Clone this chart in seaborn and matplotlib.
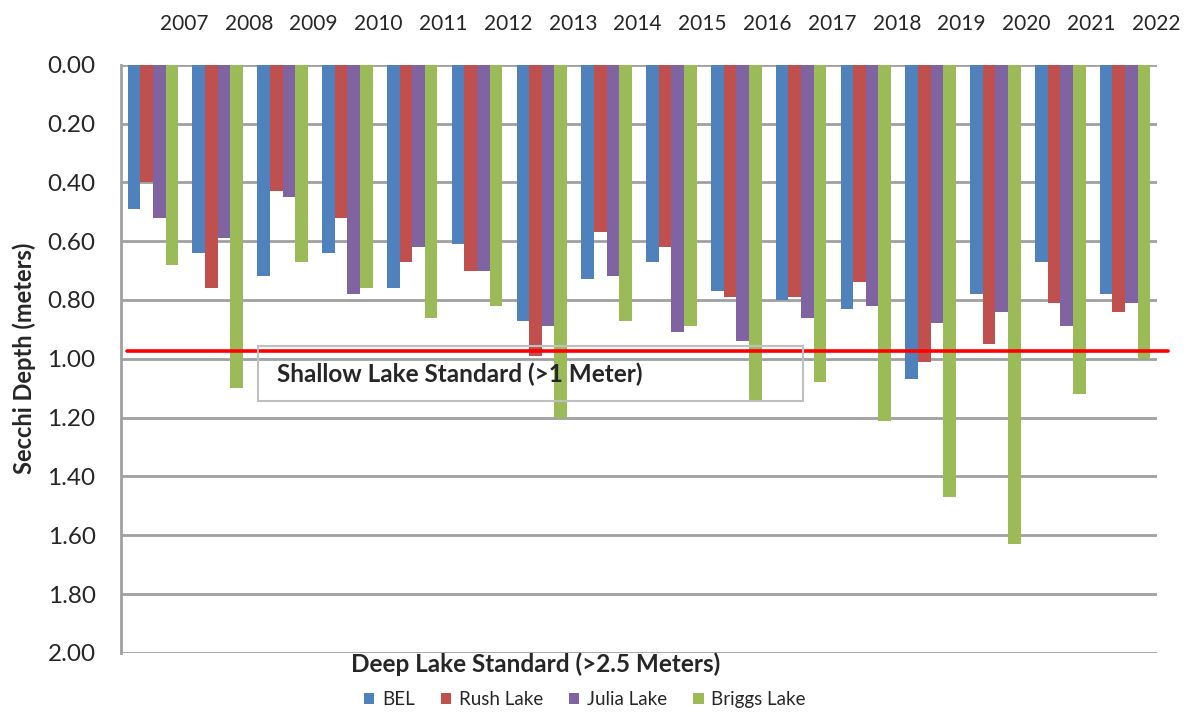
import matplotlib
matplotlib.use("Agg")
import matplotlib.pyplot as plt
import matplotlib.transforms as mtransforms
from matplotlib.patches import Rectangle, Patch
import seaborn as sns
import pandas as pd

years = [str(y) for y in range(2007, 2023)]
bel = [0.49, 0.64, 0.72, 0.64, 0.76, 0.61, 0.87, 0.73, 0.67, 0.77, 0.80, 0.83, 1.07, 0.78, 0.67, 0.78]
rush = [0.40, 0.76, 0.43, 0.52, 0.67, 0.70, 0.99, 0.57, 0.62, 0.79, 0.79, 0.74, 1.01, 0.95, 0.81, 0.84]
julia = [0.52, 0.59, 0.45, 0.78, 0.62, 0.70, 0.89, 0.72, 0.91, 0.94, 0.86, 0.82, 0.88, 0.84, 0.89, 0.81]
briggs = [0.68, 1.10, 0.67, 0.76, 0.86, 0.82, 1.20, 0.87, 0.89, 1.14, 1.08, 1.21, 1.47, 1.63, 1.12, 1.00]
series = ["BEL", "Rush Lake", "Julia Lake", "Briggs Lake"]
colors = ["#4F81BD", "#C0504D", "#8064A2", "#9BBB59"]
yticks = [0.0, 0.2, 0.4, 0.6, 0.8, 1.0, 1.2, 1.4, 1.6, 1.8, 2.0]
shallow_std = 0.975

rows = []
for name, vals in zip(series, [bel, rush, julia, briggs]):
    for yr, v in zip(years, vals):
        rows.append({"Year": yr, "Lake": name, "Depth": v})
df = pd.DataFrame(rows)

sns.set_theme(style="white")
plt.rcParams["font.family"] = ["Lato", "DejaVu Sans"]

fig = plt.figure(figsize=(11.96, 7.19), dpi=100)
ax = fig.add_axes([0.1008, 0.092, 0.867, 0.818])

sns.barplot(data=df, x="Year", y="Depth", hue="Lake", order=years, hue_order=series,
            palette=colors, width=0.78, saturation=1, ax=ax, legend=False,
            edgecolor="none", linewidth=0, zorder=3)

ax.set_xlim(-0.5, len(years) - 0.5)
ax.set_ylim(2.0, 0.0)
ax.set_yticks(yticks)
ax.set_yticklabels([f"{t:.2f}" for t in yticks], fontsize=17.5)
ax.yaxis.grid(True, color="#A0A0A0", linewidth=2, zorder=0)
ax.xaxis.grid(False)
ax.set_axisbelow(True)

ax.xaxis.tick_top()
ax.set_xticks(range(len(years)))
ax.set_xticklabels(years, fontsize=15)
ax.tick_params(axis="x", length=0, pad=22)
ax.tick_params(axis="y", length=0, pad=18)
offset = mtransforms.ScaledTranslation(0.31, 0, fig.dpi_scale_trans)
for lab in ax.get_xticklabels():
    lab.set_transform(lab.get_transform() + offset)

for s in ["top", "right", "bottom"]:
    ax.spines[s].set_visible(False)
ax.spines["left"].set_color("#A0A0A0")
ax.spines["left"].set_linewidth(2)

ax.set_xlabel("")
ax.set_ylabel("Secchi Depth (meters)", fontsize=17, fontweight="bold", labelpad=8)

ax.axhline(shallow_std, xmin=0.006, xmax=1.01, color="#FF0000", linewidth=2.6, zorder=5, clip_on=False)

ax.add_patch(Rectangle((0.133, 0.429), 0.525, 0.093, transform=ax.transAxes,
                       fill=False, edgecolor="#BFBFBF", linewidth=1.5, zorder=6))
ax.text(0.151, 0.474, "Shallow Lake Standard (>1 Meter)", transform=ax.transAxes,
        fontsize=17.5, fontweight="bold", va="center", ha="left", zorder=7)

ax.text(0.40, -0.0, "Deep Lake Standard (>2.5 Meters)", transform=ax.transAxes,
        fontsize=17.5, fontweight="bold", va="top", ha="center")

handles = [Patch(facecolor=c, edgecolor="none", label=n) for n, c in zip(series, colors)]
fig.legend(handles=handles, loc="lower center", bbox_to_anchor=(0.489, -0.008), ncol=4,
           frameon=False, fontsize=13.5, handlelength=0.55, handleheight=0.55,
           handletextpad=0.4, columnspacing=1.4)

fig.savefig("out.png", dpi=100)
